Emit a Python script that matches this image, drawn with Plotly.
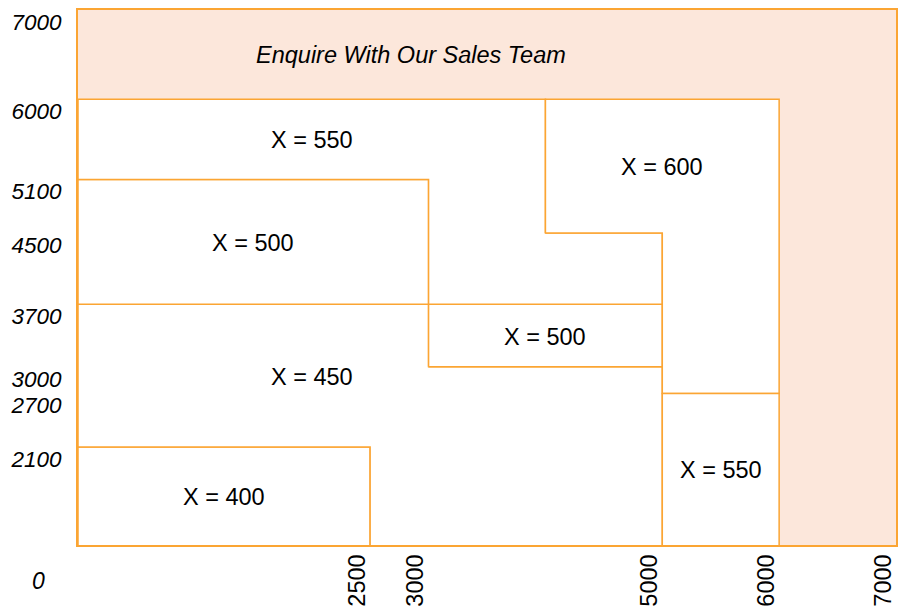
import plotly.graph_objects as go

# price zones: outline of each region (x = width, y = height)
zone_names = ['X = 400', 'X = 450', 'X = 500', 'X = 500', 'X = 550', 'X = 600', 'X = 550']
zone_x = [
    [0, 2500, 2500, 0, 0],
    [0, 2500, 2500, 5000, 5000, 3000, 3000, 0, 0],
    [3000, 5000, 5000, 3000, 3000],
    [0, 3000, 3000, 0, 0],
    [0, 3000, 3000, 5000, 5000, 4000, 4000, 0, 0],
    [4000, 5000, 5000, 6000, 6000, 4000, 4000],
    [5000, 6000, 6000, 5000, 5000],
]
zone_y = [
    [0, 0, 2100, 2100, 0],
    [2100, 2100, 0, 0, 3000, 3000, 3700, 3700, 2100],
    [3000, 3000, 3700, 3700, 3000],
    [3700, 3700, 5100, 5100, 3700],
    [5100, 5100, 3700, 3700, 4500, 4500, 6000, 6000, 5100],
    [4500, 4500, 2700, 2700, 6000, 6000, 4500],
    [0, 0, 2700, 2700, 0],
]
# where each zone's label sits
label_x = [1250, 2000, 4000, 1500, 2000, 5000, 5500]
label_y = [1540, 2880, 3330, 4390, 5540, 5240, 1840]

enquire_text = 'Enquire With Our Sales Team'
enquire_x, enquire_y = 2850, 6500

x_ticks = [2500, 3000, 5000, 6000, 7000]
y_ticks = [2100, 2700, 3000, 3700, 4500, 5100, 6000, 7000]

orange = '#fba533'
peach = '#fce7db'
font_family = 'Liberation Sans, Arial, sans-serif'

fig = go.Figure()
for xs, ys in zip(zone_x, zone_y):
    fig.add_trace(go.Scatter(x=xs, y=ys, mode='lines', fill='toself',
                             fillcolor='white', line={'color': orange, 'width': 1.5},
                             hoverinfo='skip'))

for name, lx, ly in zip(zone_names, label_x, label_y):
    fig.add_annotation(x=lx, y=ly, text=name, showarrow=False,
                       font={'size': 23.5, 'color': 'black', 'family': font_family})

fig.add_annotation(x=enquire_x, y=enquire_y, text=enquire_text, showarrow=False,
                   font={'size': 23.5, 'color': 'black', 'family': font_family, 'style': 'italic'})

# origin label sits in the corner below the axes
fig.add_annotation(x=0, y=0, xref='x domain', yref='y domain', xshift=-40, yshift=-36,
                   xanchor='center', yanchor='middle', text='0', showarrow=False,
                   font={'size': 23, 'color': 'black', 'family': font_family, 'style': 'italic'})

fig.update_layout(
    width=902, height=606,
    margin={'l': 78, 'r': 6, 't': 10, 'b': 61, 'autoexpand': False},
    plot_bgcolor=peach, paper_bgcolor='white',
    showlegend=False,
    font={'family': font_family, 'color': 'black'},
    xaxis={'range': [0, 7000], 'tickvals': x_ticks, 'ticktext': [str(v) for v in x_ticks],
           'tickangle': -90, 'showgrid': False, 'zeroline': False, 'automargin': False,
           'showline': True, 'mirror': True, 'linecolor': orange, 'linewidth': 2,
           'ticks': '', 'ticklabelshift': -13, 'ticklabelstandoff': -2,
           'tickfont': {'size': 23.5, 'color': 'black'}},
    yaxis={'range': [1000, 7000], 'tickvals': y_ticks, 'ticktext': [str(v) for v in y_ticks],
           'showgrid': False, 'zeroline': False, 'automargin': False,
           'showline': True, 'mirror': True, 'linecolor': orange, 'linewidth': 2,
           'ticks': '', 'ticklabelshift': 12, 'ticklabelstandoff': 10,
           'tickfont': {'size': 22.5, 'style': 'italic', 'color': 'black'}},
)

# drop the default page margin so the figure fills the window exactly
fig.write_html('out.html', config={'displayModeBar': False},
               post_script="document.body.style.margin='0';document.body.style.overflow='hidden';")
